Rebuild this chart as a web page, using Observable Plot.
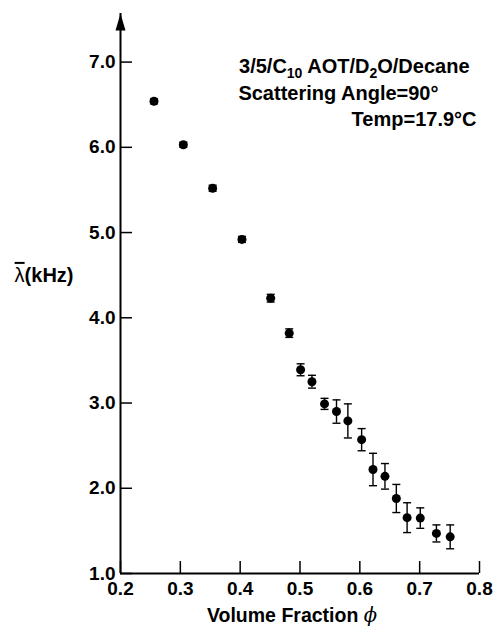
<!DOCTYPE html>
<html>
<head>
<meta charset="utf-8">
<script src="https://cdn.jsdelivr.net/npm/d3@7"></script>
<script src="https://cdn.jsdelivr.net/npm/@observablehq/plot@0.6"></script>
<style>
  html, body { margin: 0; padding: 0; background: #fff; }
  #chart { width: 496px; height: 627px; }
</style>
</head>
<body>
<div id="chart"></div>
<script>
// ---- data ----
const phi    = [0.256, 0.305, 0.354, 0.403, 0.451, 0.482, 0.501, 0.520, 0.541, 0.561, 0.580, 0.603, 0.622, 0.642, 0.661, 0.679, 0.701, 0.728, 0.751];
const lambda = [6.54, 6.03, 5.52, 4.92, 4.23, 3.82, 3.39, 3.25, 2.99, 2.90, 2.79, 2.57, 2.22, 2.14, 1.88, 1.655, 1.65, 1.47, 1.43];
const err    = [0.03, 0.03, 0.035, 0.035, 0.045, 0.05, 0.07, 0.075, 0.065, 0.137, 0.2, 0.13, 0.19, 0.15, 0.165, 0.175, 0.12, 0.10, 0.14];

const xTicks = [0.2, 0.3, 0.4, 0.5, 0.6, 0.7, 0.8];
const yTicks = [1, 2, 3, 4, 5, 6, 7];
const xDomain = [0.2, 0.8];
const yDomain = [1, 7.57];

const annotation = ["3/5/C_{10} AOT/D_{2}O/Decane", "Scattering Angle=90°", "Temp=17.9°C"];
const yLabel = "^{λ}(kHz)";
const xLabel = "Volume Fraction *{ϕ}";

const rows = phi.map((x, i) => ({x, y: lambda[i], e: err[i]}));

const FONT = "'Liberation Sans', Arial, Helvetica, sans-serif";
const ANN = 20;

const capSymbol = {draw(ctx) { ctx.moveTo(-4, 0); ctx.lineTo(4, 0); }};
const arrowHead = {draw(ctx) { ctx.moveTo(0, 0); ctx.lineTo(5, 17); ctx.lineTo(-5, 17); ctx.closePath(); }};

const plot = Plot.plot({
  width: 496,
  height: 627,
  marginLeft: 120,
  marginRight: 17,
  marginTop: 13,
  marginBottom: 54,
  style: {fontFamily: FONT, fontWeight: "bold", color: "black", background: "white"},
  x: {domain: xDomain},
  y: {domain: yDomain},
  marks: [
    // axis lines
    Plot.ruleY([yDomain[0]], {stroke: "black", strokeWidth: 2}),
    Plot.ruleX([xDomain[0]], {stroke: "black", strokeWidth: 2}),
    Plot.dot([yDomain[1]], {x: () => xDomain[0], y: d => d, symbol: arrowHead, fill: "black", stroke: "none"}),
    // inward ticks
    Plot.axisX({ticks: xTicks, tickSize: 12, dy: -12, tickFormat: () => "", label: null, strokeWidth: 1.5}),
    Plot.axisY({ticks: yTicks, tickSize: 12, dx: 12, tickFormat: () => "", label: null, strokeWidth: 1.5}),
    // tick labels
    Plot.axisX({ticks: xTicks, tickSize: 0, tickPadding: 8, tickFormat: d3.format(".1f"), label: null, fontSize: 19, fontWeight: "bold"}),
    Plot.axisY({ticks: yTicks, tickSize: 0, tickPadding: 5, tickFormat: d3.format(".1f"), label: null, fontSize: 19, fontWeight: "bold"}),
    // error bars
    Plot.ruleX(rows, {x: "x", y1: d => d.y - d.e, y2: d => d.y + d.e, stroke: "black", strokeWidth: 1.4}),
    Plot.dot(rows, {x: "x", y: d => d.y - d.e, symbol: capSymbol, fill: "none", stroke: "black", strokeWidth: 1.4}),
    Plot.dot(rows, {x: "x", y: d => d.y + d.e, symbol: capSymbol, fill: "none", stroke: "black", strokeWidth: 1.4}),
    // points
    Plot.dot(rows, {x: "x", y: "y", r: 4.5, fill: "black", stroke: "none"}),
    // annotation
    Plot.text([annotation[0]], {frameAnchor: "top-right", textAnchor: "end", lineAnchor: "top", dx: -10, dy: 45, fontSize: ANN, fontWeight: "bold"}),
    Plot.text([annotation[1]], {frameAnchor: "top-right", textAnchor: "end", lineAnchor: "top", dx: -41, dy: 72, fontSize: ANN, fontWeight: "bold"}),
    Plot.text([annotation[2]], {frameAnchor: "top-right", textAnchor: "end", lineAnchor: "top", dx: -3, dy: 98, fontSize: ANN, fontWeight: "bold"}),
    // axis titles
    Plot.text([yLabel], {frameAnchor: "left", textAnchor: "end", dx: -47, dy: -18, fontSize: 20, fontWeight: "bold"}),
    Plot.text([xLabel], {frameAnchor: "bottom", textAnchor: "middle", lineAnchor: "top", dx: -8, dy: 35, fontSize: 19.5, fontWeight: "bold"})
  ]
});

// rich text: _{..} subscript, *{..} italic, ^{..} overbar
function rich(svg) {
  svg.querySelectorAll("text").forEach(t => {
    const s = t.textContent;
    if (!/[_*^]\{/.test(s)) return;
    const parts = s.split(/([_*^]\{[^}]*\})/).filter(p => p.length);
    while (t.firstChild) t.removeChild(t.firstChild);
    let shift = 0;
    for (const p of parts) {
      const ts = document.createElementNS("http://www.w3.org/2000/svg", "tspan");
      if (p.startsWith("_{")) {
        ts.textContent = p.slice(2, -1);
        ts.setAttribute("font-size", "14");
        ts.setAttribute("dy", String(5 - shift));
        shift = 5;
      } else if (p.startsWith("*{")) {
        ts.textContent = p.slice(2, -1);
        ts.setAttribute("font-style", "italic");
        ts.setAttribute("font-weight", "normal");
        ts.setAttribute("font-family", "'DejaVu Serif', serif");
        if (shift) ts.setAttribute("dy", String(-shift));
        shift = 0;
      } else if (p.startsWith("^{")) {
        ts.textContent = p.slice(2, -1);
        ts.setAttribute("font-weight", "normal");
        ts.setAttribute("text-decoration", "overline");
        ts.style.textDecoration = "overline";
        if (shift) ts.setAttribute("dy", String(-shift));
        shift = 0;
      } else {
        ts.textContent = p;
        if (shift) ts.setAttribute("dy", String(-shift));
        shift = 0;
      }
      t.appendChild(ts);
    }
  });
}
rich(plot);
document.getElementById("chart").appendChild(plot);
</script>
</body>
</html>
